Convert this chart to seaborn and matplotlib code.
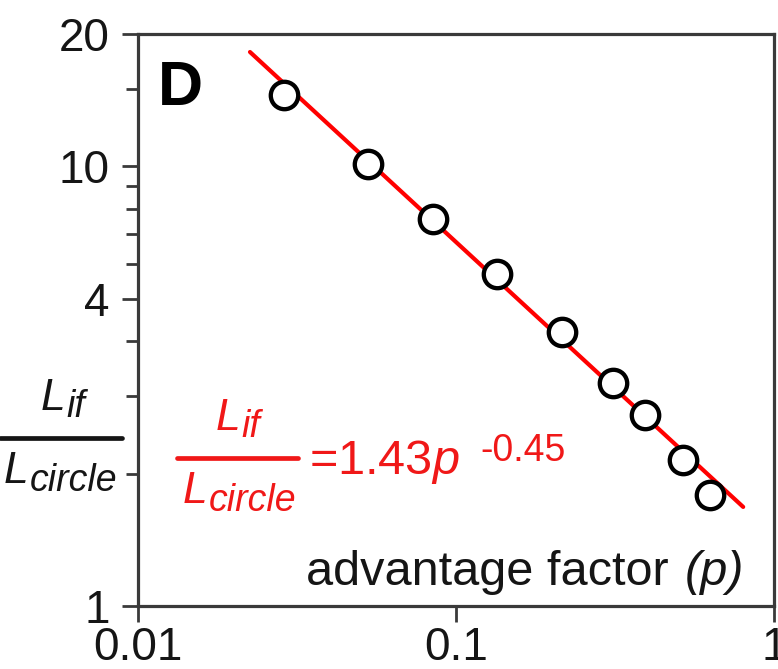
import matplotlib
matplotlib.use("Agg")
import matplotlib.pyplot as plt
from matplotlib.lines import Line2D
import seaborn as sns
import pandas as pd

# ---- data ----
p_values = [0.0288, 0.0528, 0.0848, 0.1346, 0.2153, 0.312, 0.393, 0.518, 0.630]
ratio_values = [14.5, 10.1, 7.59, 5.69, 4.20, 3.22, 2.72, 2.15, 1.79]
fit_p = [0.0225, 0.80]
fit_ratio = [18.2, 1.68]
xtick_pos = [0.01, 0.1, 1]
xtick_labels = ["0.01", "0.1", "1"]
ytick_pos = [1, 5, 10, 20]
ytick_labels = ["1", "4", "10", "20"]
ytick_minor = [2, 3, 4, 6, 7, 8, 9, 15]

sns.set_style("ticks")
plt.rcParams["font.family"] = ["Liberation Sans", "DejaVu Sans"]
plt.rcParams["mathtext.fontset"] = "custom"
plt.rcParams["mathtext.rm"] = "Liberation Sans"
plt.rcParams["mathtext.it"] = "Liberation Sans:italic"

W, H = 778, 669
fig = plt.figure(figsize=(W / 100, H / 100), dpi=100)
ax = fig.add_axes([138 / W, 1 - 606 / H, 636 / W, 572 / H])

df_pts = pd.DataFrame({"p": p_values, "ratio": ratio_values})
df_fit = pd.DataFrame({"p": fit_p, "ratio": fit_ratio})

sns.lineplot(data=df_fit, x="p", y="ratio", ax=ax, color="red", lw=3.0, zorder=2)
sns.scatterplot(data=df_pts, x="p", y="ratio", ax=ax, marker="o", s=390,
                facecolor="white", edgecolor="black", linewidth=3.1, zorder=3)

ax.set_xscale("log")
ax.set_yscale("log")
ax.set_xlim(0.01, 1)
ax.set_ylim(1, 20)
ax.set_xticks(xtick_pos)
ax.set_xticklabels(xtick_labels)
ax.set_xticks([], minor=True)
ax.set_yticks(ytick_pos)
ax.set_yticklabels(ytick_labels)
ax.set_yticks(ytick_minor, minor=True)
ax.set_yticklabels([], minor=True)
ax.set_xlabel("")
ax.set_ylabel("")

spine_c = "#3a3a3a"
for s in ax.spines.values():
    s.set_visible(True)
    s.set_color(spine_c)
    s.set_linewidth(2.3)
ax.tick_params(axis="both", which="major", length=11.5, width=2.0, color=spine_c,
               labelsize=33, labelcolor="#151515", direction="out")
ax.tick_params(axis="y", which="major", pad=9)
ax.tick_params(axis="x", which="major", pad=3)
ax.tick_params(axis="y", which="minor", length=8.5, width=2.0, color=spine_c, direction="out")
ax.tick_params(axis="x", which="minor", length=0)


def ftext(x, y, s, **kw):
    kw.setdefault("ha", "left")
    return fig.text(x / W, 1 - y / H, s, va="baseline", **kw)


def fline(x0, x1, y, **kw):
    fig.add_artist(Line2D([x0 / W, x1 / W], [1 - y / H, 1 - y / H], **kw))


# panel letter
ftext(158, 105, "D", size=45, weight="bold", color="black")

# y-axis label as a fraction
ink = "#151515"
ftext(41, 410, "L", size=32, style="italic", color=ink)
ftext(66, 417, "if", size=27, style="italic", color=ink)
fline(0, 122, 438, color=ink, lw=3.4)
ftext(4, 483, "L", size=32, style="italic", color=ink)
ftext(30, 491, "circle", size=27, style="italic", color=ink)

# fitted equation (red)
red = "#f01818"
ftext(216, 430, "L", size=32, style="italic", color=red)
ftext(241, 437, "if", size=27, style="italic", color=red)
fline(177, 298, 458, color=red, lw=3.4)
ftext(183, 503, "L", size=32, style="italic", color=red)
ftext(209, 511, "circle", size=27, style="italic", color=red)
ftext(309, 474, "=1.43$p$", size=35, color=red)
ftext(480, 461, "-0.45", size=27, color=red)

# x-axis title inside the plot
renderer = fig.canvas.get_renderer()
tp = fig.text(744 / W, 1 - 585 / H, "(p)", size=35, style="italic",
              ha="right", va="baseline", color=ink)
wp = tp.get_window_extent(renderer=renderer).width
fig.text((744 - wp - 2) / W, 1 - 585 / H, "advantage factor ", size=35,
         ha="right", va="baseline", color=ink)

fig.savefig("out.png", dpi=100)
